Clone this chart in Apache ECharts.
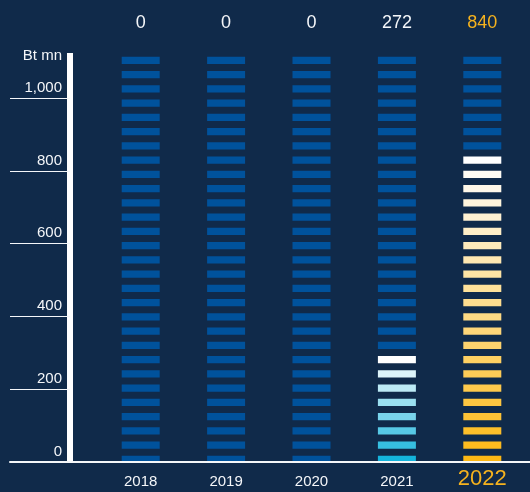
<!DOCTYPE html>
<html><head><meta charset="utf-8">
<script src="https://cdn.jsdelivr.net/npm/echarts@6/dist/echarts.min.js"></script>
<style>html,body{margin:0;padding:0;background:#102a4a}#c{width:530px;height:492px}</style>
</head><body><div id="c"></div>
<script>
// ---- data ----
const years = ['2018', '2019', '2020', '2021', '2022'];
const values = [0, 0, 0, 272, 840];
const fillColors = ['#14b4dc', '#14b4dc', '#14b4dc', '#14b4dc', '#fdb814'];
const yTicks = [0, 200, 400, 600, 800, 1000];
const yMax = 1124;
const yUnit = 'Bt mn';
const segUnit = 39.15;   // value represented by one tile
const segCount = 29;     // tiles per column

const FONT = "'Liberation Sans Narrow', 'Arial Narrow', 'Liberation Sans', Arial, sans-serif";
const WHITE = '#f4f6f9';
const GOLD = '#f5b21e';
const TILE = '#00529c';

function mix(hex, t) {
  const n = parseInt(hex.slice(1), 16);
  const r = (n >> 16) & 255, g = (n >> 8) & 255, b = n & 255;
  const f = c => Math.round(c + (255 - c) * t);
  return 'rgb(' + f(r) + ',' + f(g) + ',' + f(b) + ')';
}

const chart = echarts.init(document.getElementById('c'), null, {renderer: 'canvas'});
const option = {
  backgroundColor: '#102a4a',
  animation: false,
  grid: [
    {left: 98, right: 5, top: 53, bottom: 30},
    {left: 10, right: 0, top: 53, bottom: 30}
  ],
  xAxis: [
    {
      type: 'category', gridIndex: 0, data: years, position: 'bottom',
      axisLine: {show: false}, axisTick: {show: false},
      axisLabel: {
        margin: 6,
        formatter: (v, i) => i === years.length - 1 ? '{h|' + v + '}' : '{n|' + v + '}',
        rich: {
          n: {fontFamily: FONT, fontSize: 15, lineHeight: 15, color: WHITE, padding: [12, 0, 0, 0]},
          h: {fontFamily: FONT, fontSize: 22, lineHeight: 22, color: GOLD}
        }
      }
    },
    {
      type: 'category', gridIndex: 0, data: years, position: 'top',
      axisLine: {show: false}, axisTick: {show: false},
      axisLabel: {
        margin: 21,
        formatter: (v, i) => i === years.length - 1 ? '{h|' + values[i] + '}' : '{n|' + values[i] + '}',
        rich: {
          n: {fontFamily: FONT, fontSize: 18, lineHeight: 18, color: WHITE},
          h: {fontFamily: FONT, fontSize: 18, lineHeight: 18, color: GOLD}
        }
      }
    },
    {
      type: 'value', gridIndex: 1, min: 0, max: 1, position: 'bottom',
      axisLine: {show: true, lineStyle: {color: WHITE, width: 2}},
      axisTick: {show: false}, axisLabel: {show: false}, splitLine: {show: false}, z: 5
    }
  ],
  yAxis: [
    {
      type: 'value', gridIndex: 0, min: 0, max: yMax, interval: 200, offset: 28,
      name: yUnit, nameLocation: 'end', nameGap: -3,
      nameTextStyle: {fontFamily: FONT, fontSize: 15, color: WHITE, align: 'right', verticalAlign: 'middle', padding: [0, 8, 0, 0]},
      axisLine: {show: true, lineStyle: {color: '#ffffff', width: 6, cap: 'butt'}},
      axisTick: {show: true, length: 60, customValues: yTicks, lineStyle: {color: WHITE, width: 1}},
      axisLabel: {
        customValues: yTicks, margin: 8, color: WHITE, fontFamily: FONT, fontSize: 15,
        verticalAlign: 'bottom', padding: [0, 0, 3, 0],
        formatter: v => v.toLocaleString('en-US')
      },
      splitLine: {show: false}
    },
    {type: 'value', gridIndex: 1, min: 0, max: 1, show: false}
  ],
  series: [{
    type: 'custom',
    xAxisIndex: 0, yAxisIndex: 0,
    data: values.map((v, i) => [i, v]),
    encode: {x: 0, y: 1},
    renderItem: function (params, api) {
      const idx = api.value(0), v = api.value(1);
      const filled = v > 0 ? Math.round(v / segUnit) + 1 : 0;
      const w = 38, h = 7.3;
      const children = [];
      for (let i = 0; i < segCount; i++) {
        const p = api.coord([idx, i * segUnit]);
        const color = i < filled ? mix(fillColors[idx], filled > 1 ? i / (filled - 1) : 0) : TILE;
        children.push({
          type: 'rect',
          shape: {x: p[0] - w / 2, y: p[1] + 1 - h, width: w, height: h},
          style: {fill: color}
        });
      }
      return {type: 'group', children: children};
    }
  }]
};
chart.setOption(option);
</script>
</body></html>
